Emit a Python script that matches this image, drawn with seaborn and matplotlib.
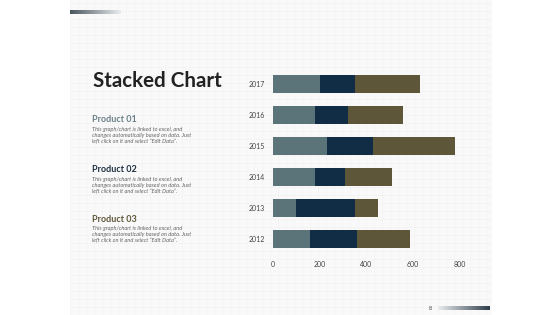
import numpy as np
import pandas as pd
import matplotlib.pyplot as plt
import seaborn as sns

# ================== data ==================
years = ["2017", "2016", "2015", "2014", "2013", "2012"]
product_01 = [200, 180, 230, 180, 100, 160]
product_02 = [150, 140, 200, 130, 250, 200]
product_03 = [280, 240, 350, 200, 100, 230]
x_ticks = [0, 200, 400, 600, 800]
products = ["Product 01", "Product 02", "Product 03"]
desc = ("This graph/chart is linked to excel, and\n"
        "changes automatically based on data. Just\n"
        "left click on it and select \u201cEdit Data\u201d.")
# ==========================================

colors = ["#5b7479", "#102d45", "#5d5638"]
title_colors = ["#6a7f87", "#1c2f3f", "#5d5638"]

W, H = 560, 315
sns.set_theme(style="white")
plt.rcParams['font.family'] = ['Lato', 'DejaVu Sans']

fig = plt.figure(figsize=(W / 100, H / 100), dpi=100, facecolor="white")

# faint graph-paper panel
bg = fig.add_axes([70 / W, 0, 422 / W, 1])
bg.set_facecolor("#f9f9f9")
bg.set_xlim(0, 422)
bg.set_ylim(0, 315)
bg.set_xticks(np.arange(0, 423, 8))
bg.set_yticks(np.arange(0, 316, 8))
bg.grid(True, color="#f2f2f2", linewidth=0.5)
bg.tick_params(length=0, labelbottom=False, labelleft=False)
for s in bg.spines.values():
    s.set_visible(False)

# gradient bars (decoration)
grad = np.linspace(0, 1, 100).reshape(1, -1)
g1 = fig.add_axes([70 / W, 1 - 14 / H, 50 / W, 4 / H])
g1.imshow(grad, aspect="auto", cmap=sns.blend_palette(["#4a555c", "#e8ecee"], as_cmap=True))
g1.axis("off")
g2 = fig.add_axes([438 / W, 1 - 310 / H, 52 / W, 4 / H])
g2.imshow(grad, aspect="auto", cmap=sns.blend_palette(["#e8ecee", "#2f3e4a"], as_cmap=True))
g2.axis("off")

# stacked bar chart
df = pd.DataFrame({"Year": years, "p1": product_01, "p2": product_02, "p3": product_03})
df["c1"] = df["p1"]
df["c2"] = df["p1"] + df["p2"]
df["c3"] = df["c2"] + df["p3"]

ax = fig.add_axes([273 / W, 1 - 254.5 / H, 198 / W, 186 / H])
for col, c in zip(["c3", "c2", "c1"], colors[::-1]):
    sns.barplot(data=df, x=col, y="Year", order=years, color=c, width=0.55,
                saturation=1, orient="h", linewidth=0, ax=ax)
ax.set_facecolor("none")
ax.set_xlim(0, 850)
ax.set_xticks(x_ticks)
ax.set_xlabel("")
ax.set_ylabel("")
ax.tick_params(axis="both", length=0, labelsize=5, labelcolor="#444444")
ax.tick_params(axis="y", pad=6)
ax.tick_params(axis="x", pad=5)
for s in ax.spines.values():
    s.set_visible(False)

# text panel
fig.text(93 / W, 1 - 81 / H, "Stacked Chart", fontsize=14.8, fontweight="bold",
         color="#222222", va="center", ha="left")
for i, (name, tc) in enumerate(zip(products, title_colors)):
    y0 = 120 + i * 49.5
    fig.text(92 / W, 1 - y0 / H, name, fontsize=6.5, fontweight="bold",
             color=tc, va="center", ha="left")
    fig.text(92 / W, 1 - (y0 + 7) / H, desc, fontsize=4.1, style="italic",
             color="#666666", va="top", ha="left", linespacing=1.3)

fig.text(430 / W, 1 - 308 / H, "8", fontsize=4, color="#444444", va="center", ha="center")

fig.savefig("out.png", dpi=100, facecolor="white")
